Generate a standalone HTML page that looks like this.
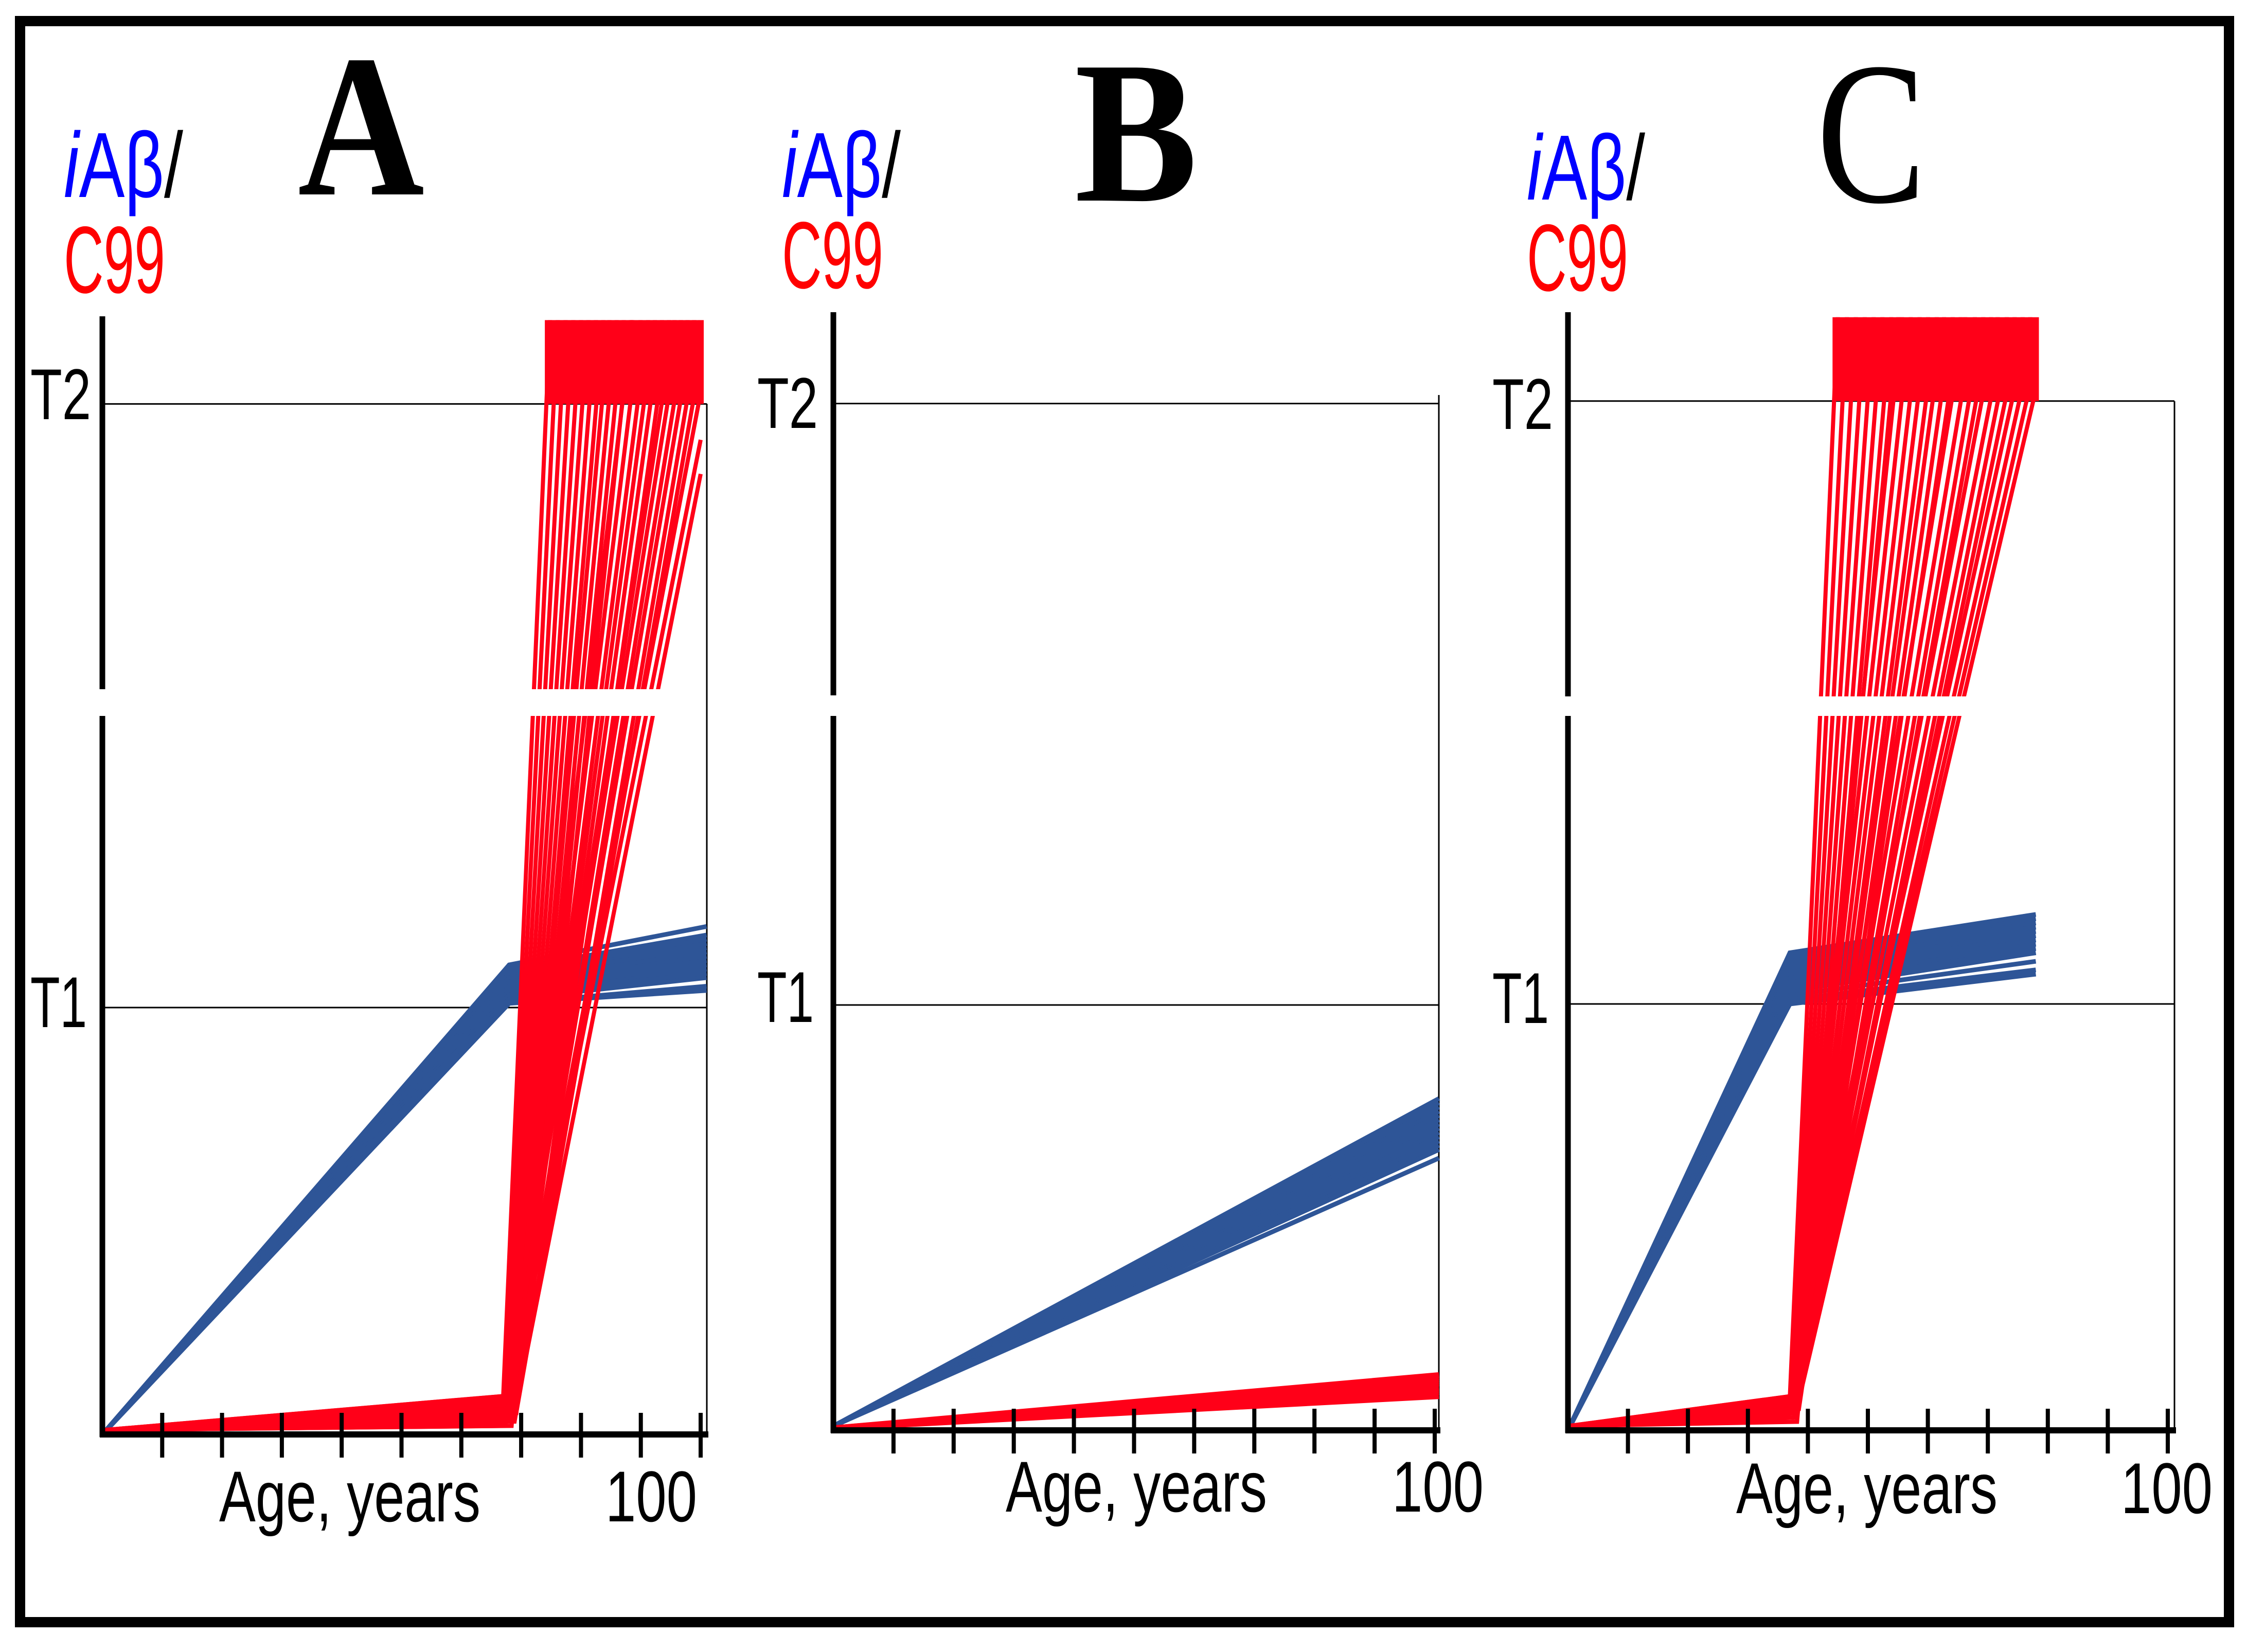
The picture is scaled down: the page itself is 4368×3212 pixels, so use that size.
<!DOCTYPE html>
<html><head><meta charset="utf-8"><style>
html,body{margin:0;padding:0;background:#fff;}
svg{display:block;}
</style></head><body>
<svg id="fig" width="4368" height="3212" viewBox="0 0 4368 3212" xmlns="http://www.w3.org/2000/svg">
<rect x="0" y="0" width="4368" height="3212" fill="#fff"/>
<rect x="39" y="41" width="4294" height="3113" fill="none" stroke="#000" stroke-width="20"/>
<g id="panels"></g>
</svg>
<script>
// ---- data (ages in years, values in units of T1; T2 = 2.414) ----
const T1_VALUE = 1;
const T2_VALUE = 2.414;
const tickAges = [10,20,30,40,50,60,70,80,90,100];

// Panel A
const blueKinkAgeA = 68;
const blueEndAgeA = 101;
const blueKinkA = [1.10,1.09,1.08,1.07,1.07,1.06,1.05,1.05,1.04,1.03,1.03,1.02,1.01,1.01];
const blueEndA  = [1.19,1.17,1.16,1.15,1.14,1.13,1.12,1.11,1.10,1.09,1.08,1.07,1.05,1.04];
const redKinkAgeA = [67,67.2,67.4,67.6,67.8,68,68.2,68.4,68.6,68.8,69,69.2,67.1,67.5,67.9,68.3,68.7,69.1,67.3,67.7,68.1,68.5,68.9,69.3,67.6,68.2,68.8];
const redEndAgeA = 100;
const redKinkA = [0.09,0.08,0.07,0.06,0.05,0.04,0.03,0.02,0.08,0.07,0.06,0.05,0.09,0.04,0.03,0.06,0.08,0.05,0.02,0.07,0.04,0.09,0.03,0.06,0.05,0.08,0.04];
const redEndA  = [10.72,9.37,8.33,7.49,6.81,6.25,5.77,5.36,5.00,4.69,4.42,4.17,3.95,3.76,3.58,3.42,3.27,3.14,3.01,2.90,2.80,2.70,2.61,2.52,2.44,2.33,2.25];

// Panel B
const blueEndAgeB = 100.7;
const blueEndB = [0.78,0.77,0.76,0.75,0.74,0.73,0.72,0.71,0.70,0.69,0.68,0.67,0.66,0.64];
const redEndAgeB = 100.7;
const redEndB = [0.13,0.125,0.12,0.115,0.11,0.10,0.095,0.09,0.08];

// Panel C
const blueKinkAgeC = 37;
const blueEndAgeC = 78;
const blueKinkC = [1.12,1.11,1.10,1.09,1.08,1.07,1.06,1.05,1.04,1.03,1.02,1.01,1.00];
const blueEndC  = [1.21,1.20,1.19,1.18,1.17,1.16,1.15,1.14,1.13,1.12,1.10,1.08,1.07];
const redKinkAgeC = [37,37.2,37.4,37.6,37.8,38,38.2,38.4,37.1,37.3,37.5,37.7,37.9,38.1,38.3,38.5,37,37.4,37.8,38.2,37.2,37.6,38,38.4,37.3,37.7,38.1,38.5];
const redEndAgeC = 78;
const redKinkC = [0.08,0.07,0.06,0.05,0.04,0.03,0.02,0.08,0.07,0.06,0.05,0.04,0.03,0.07,0.06,0.05,0.08,0.04,0.03,0.06,0.07,0.05,0.04,0.08,0.06,0.03,0.05,0.07];
const redEndC  = [13.07,11.22,9.84,8.76,7.89,7.19,6.59,6.09,5.66,5.29,4.96,4.68,4.42,4.19,3.98,3.80,3.63,3.47,3.33,3.20,3.08,2.96,2.86,2.76,2.67,2.59,2.51,2.44];

// ---- layout (pixels) ----
const NS = 'http://www.w3.org/2000/svg';
const BLUE = '#2e5597', RED = '#ff0018';
const panels = [
 {id:'a', letter:'A', bold:true, letterX:579, letterW:246, letterY:378,
  x0:199, x100:1362, right:1374, y0:2789, y1:1959, axisTop:615, breakTop:1340, breakBot:1392, frameTop:785,
  labX:124, labW:232, labY:383, c99Y:569, t2X:59, t2Y:815, t1Y:1997,
  ageX:426, ageY:2958, hundredX:1177},
 {id:'b', letter:'B', bold:true, letterX:2089, letterW:239, letterY:390,
  x0:1620, x100:2789, right:2797, y0:2781, y1:1954, axisTop:607, breakTop:1352, breakBot:1392, frameTop:768,
  labX:1520, labW:231, labY:383, c99Y:560, t2X:1472, t2Y:832, t1Y:1987,
  ageX:1955, ageY:2939, hundredX:2706},
 {id:'c', letter:'C', bold:false, letterX:3531, letterW:213, letterY:392,
  x0:3048, x100:4214, right:4227, y0:2781, y1:1952, axisTop:607, breakTop:1354, breakBot:1392, frameTop:780,
  labX:2968, labW:230, labY:388, c99Y:565, t2X:2901, t2Y:834, t1Y:1989,
  ageX:3375, ageY:2942, hundredX:4123}
];

function mk(tag, attrs, parent){
  const e = document.createElementNS(NS, tag);
  for (const k in attrs) e.setAttribute(k, attrs[k]);
  parent.appendChild(e);
  return e;
}
const root = document.getElementById('panels');

panels.forEach(p => {
  const g = mk('g', {}, root);
  
  
  const xs = a => p.x0 + a * (p.x100 - p.x0) / 100;
  const ys = v => p.y0 - v * (p.y0 - p.y1);
  const yT2 = ys(T2_VALUE);

  const clip = mk('clipPath', {id:'clip-' + p.id}, g);
  mk('rect', {x:p.x0, y:ys(T2_VALUE) - 163, width:p.right - p.x0 + 8, height:p.y0 - ys(T2_VALUE) + 180}, clip);

  const fr = mk('g', {stroke:'#000', 'stroke-width':3, fill:'none'}, g);
  const t2l = mk('line', {x1:p.x0, y1:yT2, x2:p.right, y2:yT2}, fr);
  
  
  const t1l = mk('line', {x1:p.x0, y1:ys(T1_VALUE), x2:p.right, y2:ys(T1_VALUE)}, fr);
  
  
  const rl = mk('line', {x1:p.right, y1:p.frameTop, x2:p.right, y2:p.y0}, fr);
  
  

  const series = mk('g', {'clip-path':'url(#clip-' + p.id + ')', fill:'none', 'stroke-linejoin':'miter'}, g);

  let blueLines = [], redLines = [];
  if (p.id === 'a') {
    blueKinkA.forEach((k,i) => blueLines.push([[0,0],[blueKinkAgeA,k],[blueEndAgeA,blueEndA[i]]]));
    redEndA.forEach((v,i) => redLines.push([[0,0.01],[redKinkAgeA[i],redKinkA[i]],[redEndAgeA,v]]));
  } else if (p.id === 'b') {
    blueEndB.forEach(v => blueLines.push([[0,0.01],[blueEndAgeB,v]]));
    redEndB.forEach(v => redLines.push([[0,0.005],[redEndAgeB,v]]));
  } else {
    blueKinkC.forEach((k,i) => blueLines.push([[0,0],[blueKinkAgeC,k],[blueEndAgeC,blueEndC[i]]]));
    redEndC.forEach((v,i) => redLines.push([[0,0.01],[redKinkAgeC[i],redKinkC[i]],[redEndAgeC,v]]));
  }
  const toPts = ln => ln.map(d => xs(d[0]).toFixed(1) + ',' + ys(d[1]).toFixed(1)).join(' ');
  const bg = mk('g', {}, series);
  
  
  blueLines.forEach((ln,i) => {
    const pl = mk('polyline', {points:toPts(ln), stroke:BLUE, 'stroke-width':9}, bg);
    
    
  });
  const rg = mk('g', {}, series);
  
  
  let minX = Infinity, maxX = -Infinity;
  redLines.forEach((ln,i) => {
    const pl = mk('polyline', {points:toPts(ln), stroke:RED, 'stroke-width':p.id === 'b' ? 11 : 8}, rg);
    
    
    const a = ln[ln.length-2], b = ln[ln.length-1];
    if (b[1] >= T2_VALUE) {
      const xa = a[0] + (T2_VALUE - a[1]) * (b[0]-a[0]) / (b[1]-a[1]);
      minX = Math.min(minX, xs(xa) - 3);
      maxX = Math.max(maxX, xs(b[0]) + 6);
    }
  });
  if (minX < Infinity) {
    const blk = mk('rect', {x:minX, y:yT2 - 163, width:maxX - minX, height:163, fill:RED}, g);
    
    
    const band = mk('rect', {x:minX - 120, y:p.breakTop, width:maxX - minX + 100, height:p.breakBot - p.breakTop, fill:'#fff'}, g);
    
    
  }

  const ya = mk('g', {stroke:'#000', 'stroke-width':11}, g);
  
  
  mk('line', {x1:p.x0, y1:p.axisTop, x2:p.x0, y2:p.breakTop}, ya);
  mk('line', {x1:p.x0, y1:p.breakBot, x2:p.x0, y2:p.y0 + 5}, ya);
  const xa = mk('g', {stroke:'#000'}, g);
  
  
  mk('line', {x1:p.x0 - 5, y1:p.y0, x2:p.right + 3, y2:p.y0, 'stroke-width':12}, xa);
  tickAges.forEach(a => {
    const t = mk('line', {x1:xs(a), y1:p.y0 - 42, x2:xs(a), y2:p.y0 + 45, 'stroke-width':8}, xa);
    
    
  });

  const F = 'font-family:"Liberation Sans",sans-serif;';
  const lab = mk('text', {x:p.labX, y:p.labY, style:F + 'font-size:180px', textLength:p.labW, lengthAdjust:'spacingAndGlyphs'}, g);
  lab.innerHTML = '<tspan fill="#0000ff" font-style="italic">i</tspan><tspan fill="#0000ff">Aβ</tspan><tspan fill="#000">/</tspan>';
  
  
  const c99 = mk('text', {x:p.labX, y:p.c99Y, fill:'#ff0000', style:F + 'font-size:185px', textLength:197, lengthAdjust:'spacingAndGlyphs'}, g);
  c99.textContent = 'C99';
  
  
  const t2 = mk('text', {x:p.t2X, y:p.t2Y, style:F + 'font-size:140px', textLength:118, lengthAdjust:'spacingAndGlyphs'}, g);
  t2.textContent = 'T2';
  
  
  const t1 = mk('text', {x:p.t2X, y:p.t1Y, style:F + 'font-size:140px', textLength:110, lengthAdjust:'spacingAndGlyphs'}, g);
  t1.textContent = 'T1';
  
  
  const age = mk('text', {x:p.ageX, y:p.ageY, style:F + 'font-size:140px', textLength:508, lengthAdjust:'spacingAndGlyphs'}, g);
  age.textContent = 'Age, years';
  
  
  const h = mk('text', {x:p.hundredX, y:p.ageY, style:F + 'font-size:140px', textLength:178, lengthAdjust:'spacingAndGlyphs'}, g);
  h.textContent = '100';
  
  
  const L = mk('text', {x:p.letterX, y:p.letterY, style:'font-family:"Liberation Serif",serif;font-size:395px;font-weight:' + (p.bold ? 'bold' : 'normal'), textLength:p.letterW, lengthAdjust:'spacingAndGlyphs'}, g);
  L.textContent = p.letter;
  
  
});
</script>
</body></html>
